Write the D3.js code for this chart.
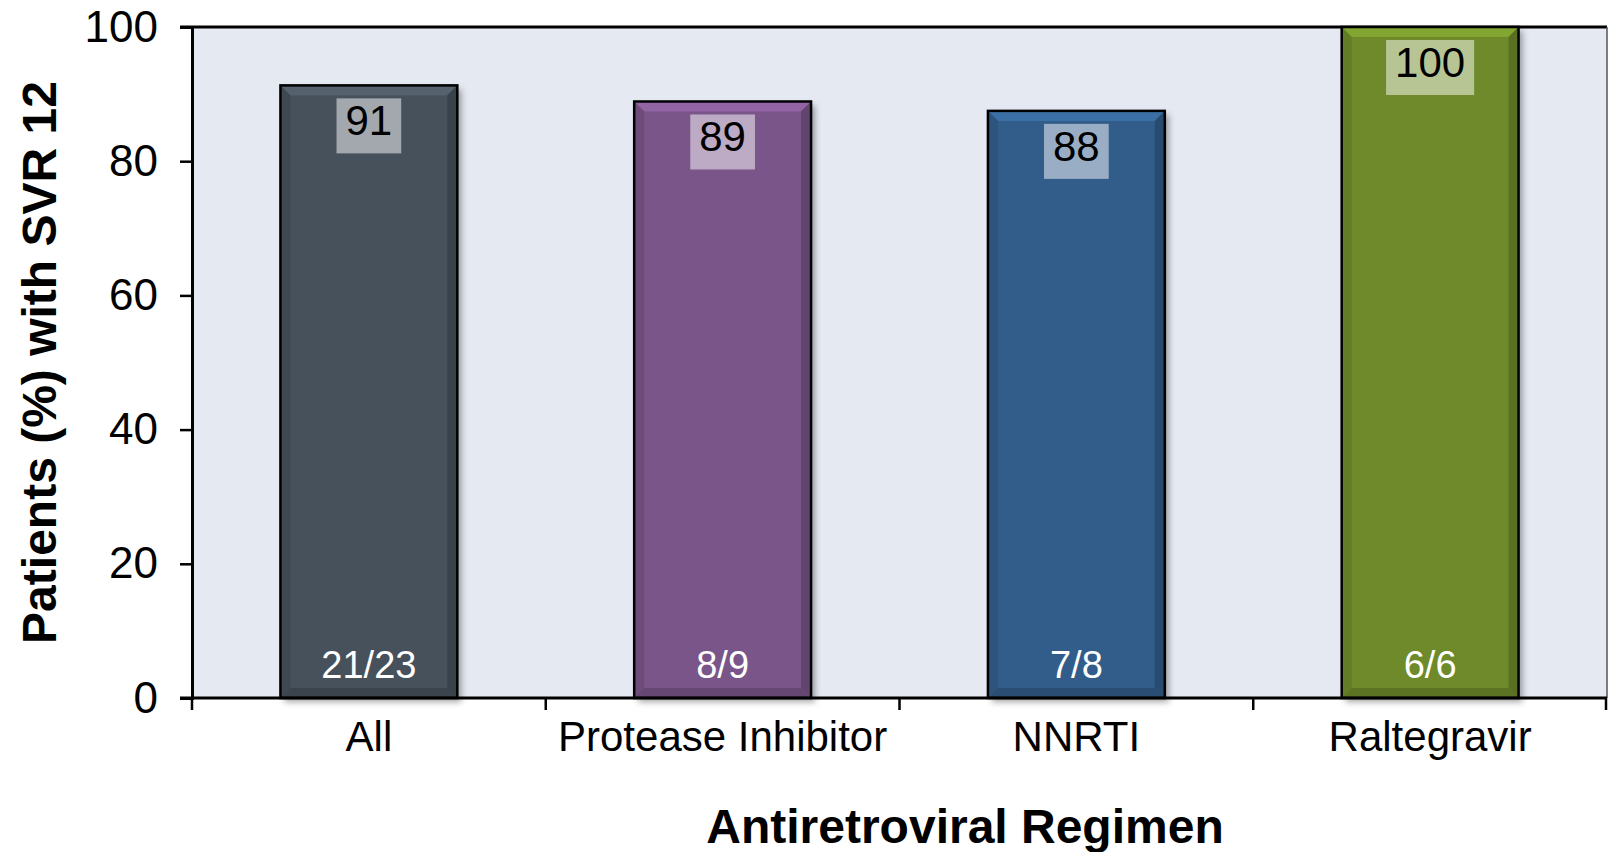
<!DOCTYPE html>
<html lang="en">
<head>
<meta charset="UTF-8">
<title>SVR 12 by Antiretroviral Regimen</title>
<script src="https://d3js.org/d3.v7.min.js"></script>
<style>
  body { margin: 0; background: #fff; font-family: "Liberation Sans", Arial, sans-serif; }
  svg { display: block; }
</style>
</head>
<body>
<svg id="chart" width="1610" height="852"></svg>
<script>
const categories = ["All", "Protease Inhibitor", "NNRTI", "Raltegravir"];
const values = [91.3, 88.9, 87.5, 100];
const valueLabels = ["91", "89", "88", "100"];
const counts = ["21/23", "8/9", "7/8", "6/6"];
const colors = ["#47515b", "#7a5489", "#325d8a", "#6e8a2a"];
const yTicks = [0, 20, 40, 60, 80, 100];

const svg = d3.select("#chart");
const margin = { top: 27, right: 3, bottom: 154, left: 192 };
const width = 1610, height = 852;

const x = d3.scaleBand()
  .domain(categories)
  .range([margin.left, width - margin.right])
  .paddingInner(0.5)
  .paddingOuter(0.25);

const y = d3.scaleLinear()
  .domain([0, 100])
  .range([height - margin.bottom, margin.top]);

const defs = svg.append("defs");
const shadow = defs.append("filter").attr("id", "shadow")
  .attr("x", "-10%").attr("y", "-10%").attr("width", "130%").attr("height", "130%");
shadow.append("feDropShadow").attr("dx", 4).attr("dy", 4).attr("stdDeviation", 3)
  .attr("flood-color", "#000").attr("flood-opacity", 0.35);

// plot background
svg.append("rect")
  .attr("x", margin.left).attr("y", margin.top)
  .attr("width", width - margin.right - margin.left)
  .attr("height", y(0) - margin.top)
  .attr("fill", "#e5e9f2");

// top frame line and right edge
svg.append("line")
  .attr("x1", margin.left - 12).attr("x2", width - margin.right)
  .attr("y1", margin.top).attr("y2", margin.top)
  .attr("stroke", "#000").attr("stroke-width", 3);
svg.append("line")
  .attr("x1", width - margin.right).attr("x2", width - margin.right)
  .attr("y1", margin.top).attr("y2", y(0))
  .attr("stroke", "#555").attr("stroke-width", 1.5);

// bars
const bars = svg.append("g").selectAll("g")
  .data(categories)
  .join("g")
  .attr("transform", d => `translate(${x(d)},0)`);

const bw = x.bandwidth();
const bev = 10;

bars.append("rect")
  .attr("x", 0).attr("y", (d, i) => y(values[i]))
  .attr("width", bw).attr("height", (d, i) => y(0) - y(values[i]))
  .attr("fill", (d, i) => colors[i])
  .attr("filter", "url(#shadow)");

// bevel: top lighter, sides darker
bars.append("path")
  .attr("d", (d, i) => {
    const t = y(values[i]);
    return `M0,${t}L${bw},${t}L${bw - bev},${t + bev}L${bev},${t + bev}Z`;
  })
  .attr("fill", (d, i) => d3.color(colors[i]).brighter(0.5));
bars.append("path")
  .attr("d", (d, i) => {
    const t = y(values[i]), b = y(0);
    return `M0,${t}L${bev},${t + bev}L${bev},${b - bev}L0,${b}Z`;
  })
  .attr("fill", (d, i) => d3.color(colors[i]).darker(0.3));
bars.append("path")
  .attr("d", (d, i) => {
    const t = y(values[i]), b = y(0);
    return `M${bw},${t}L${bw - bev},${t + bev}L${bw - bev},${b - bev}L${bw},${b}Z`;
  })
  .attr("fill", (d, i) => d3.color(colors[i]).darker(0.6));
bars.append("path")
  .attr("d", (d, i) => {
    const b = y(0);
    return `M0,${b}L${bev},${b - bev}L${bw - bev},${b - bev}L${bw},${b}Z`;
  })
  .attr("fill", (d, i) => d3.color(colors[i]).darker(0.5));
bars.append("rect")
  .attr("x", 0).attr("y", (d, i) => y(values[i]))
  .attr("width", bw).attr("height", (d, i) => y(0) - y(values[i]))
  .attr("fill", "none").attr("stroke", "#000").attr("stroke-width", 2.5);

// value labels with translucent boxes
const labels = bars.append("g");
labels.append("text")
  .attr("class", "val")
  .attr("x", bw / 2)
  .attr("y", (d, i) => y(values[i]) + 50)
  .attr("text-anchor", "middle")
  .attr("font-size", 42)
  .attr("fill", "#000")
  .text((d, i) => valueLabels[i]);
labels.each(function () {
  const g = d3.select(this);
  const bb = g.select("text").node().getBBox();
  g.insert("rect", "text")
    .attr("x", bb.x - 9).attr("y", bb.y + 1)
    .attr("width", bb.width + 18).attr("height", bb.height + 8)
    .attr("fill", "#fff").attr("fill-opacity", 0.5);
});

// counts at bottom
bars.append("text")
  .attr("x", bw / 2)
  .attr("y", y(0) - 20)
  .attr("text-anchor", "middle")
  .attr("font-size", 38)
  .attr("fill", "#fff")
  .text((d, i) => counts[i]);

// axes
const yAxis = svg.append("g")
  .attr("transform", `translate(${margin.left},0)`)
  .call(d3.axisLeft(y).tickValues(yTicks).tickSize(12).tickPadding(22));
yAxis.select(".domain").attr("stroke", "#000").attr("stroke-width", 3);
yAxis.selectAll(".tick line").attr("stroke", "#000").attr("stroke-width", 2.5);
yAxis.selectAll(".tick text").attr("font-size", 44).attr("fill", "#000")
  .attr("font-family", "'Liberation Sans', Arial, sans-serif");

const xAxis = svg.append("g")
  .attr("transform", `translate(0,${y(0)})`);
xAxis.append("line")
  .attr("x1", margin.left - 12).attr("x2", width - margin.right)
  .attr("stroke", "#000").attr("stroke-width", 3);
const bounds = [margin.left].concat(categories.map(c => x(c) + bw + x.step() * x.paddingInner() / 2));
xAxis.selectAll(".xtick")
  .data(bounds)
  .join("line")
  .attr("x1", d => Math.min(d, width - margin.right - 1)).attr("x2", d => Math.min(d, width - margin.right - 1))
  .attr("y1", 0).attr("y2", 12)
  .attr("stroke", "#000").attr("stroke-width", 2.5);
xAxis.selectAll(".xlab")
  .data(categories)
  .join("text")
  .attr("x", d => x(d) + bw / 2)
  .attr("y", 53)
  .attr("text-anchor", "middle")
  .attr("font-size", 42)
  .attr("fill", "#000")
  .text(d => d);

// axis titles
svg.append("text")
  .attr("transform", `translate(56,${(margin.top + y(0)) / 2}) rotate(-90)`)
  .attr("text-anchor", "middle")
  .attr("font-size", 48).attr("font-weight", "bold")
  .text("Patients (%) with SVR 12");

svg.append("text")
  .attr("x", 965)
  .attr("y", 843)
  .attr("text-anchor", "middle")
  .attr("font-size", 48).attr("font-weight", "bold")
  .text("Antiretroviral Regimen");
</script>
</body>
</html>
